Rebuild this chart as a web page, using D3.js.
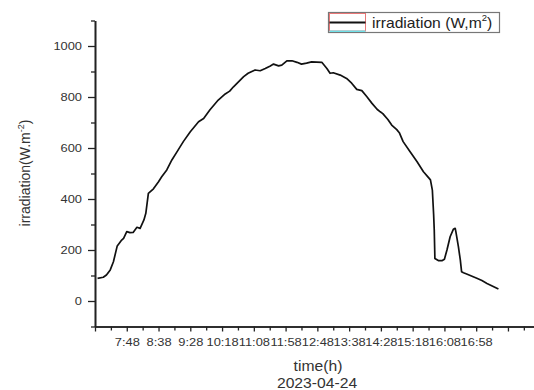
<!DOCTYPE html>
<html><head><meta charset="utf-8">
<script src="https://cdn.jsdelivr.net/npm/d3@7"></script>
<style>
body{margin:0;background:#fff}
svg{display:block}
text{font-family:"Liberation Sans",Arial,sans-serif}
</style>
</head><body>
<svg id="chart" width="534" height="390"></svg>
<script>
// ---- data ----
const times = ["7:02","7:11","7:16","7:22","7:27","7:33","7:40","7:43","7:48","7:53","7:58","8:04","8:09","8:15","8:18","8:22","8:30","8:38","8:43","8:51","8:59","9:07","9:17","9:28","9:41","9:49","9:59","10:12","10:23","10:30","10:36","10:52","10:59","11:10","11:18","11:26","11:34","11:39","11:47","11:52","12:00","12:08","12:16","12:23","12:31","12:39","12:55","13:03","13:08","13:13","13:24","13:34","13:42","13:50","13:58","14:06","14:14","14:22","14:27","14:31","14:39","14:45","14:53","14:57","15:03","15:14","15:25","15:35","15:43","15:46","15:49","15:51","15:52","15:53","15:59","16:04","16:08","16:12","16:17","16:22","16:25","16:26","16:30","16:33","16:35","16:38","16:43","16:59","17:07","17:15","17:33"];
const irradiation = [89,93,102,122,154,216,239,246,272,268,269,289,285,318,344,422,440,468,487,514,553,585,625,664,703,716,750,788,812,823,840,880,893,906,903,912,922,929,922,925,942,942,936,929,933,938,936,912,893,895,886,873,854,830,825,801,775,752,742,735,712,690,672,660,625,585,546,507,484,475,435,340,278,167,158,158,164,200,252,281,285,272,213,161,115,111,106,89,80,69,47];

const xDomain = ["6:58","18:29"];
const xMajorTicks = ["6:58","7:48","8:38","9:28","10:18","11:08","11:58","12:48","13:38","14:28","15:18","16:08","16:58","17:48"];
const xMinorTicks = ["7:23","8:13","9:03","9:53","10:43","11:33","12:23","13:13","14:03","14:53","15:43","16:33","17:23","18:13"];
const xTickLabels = ["7:48","8:38","9:28","10:18","11:08","11:58","12:48","13:38","14:28","15:18","16:08","16:58"];
const yDomain = [-100, 1100];
const yMajorTicks = [0,200,400,600,800,1000];
const yMinorTicks = [-100,100,300,500,700,900,1100];

const seriesName = "irradiation (W,m";
const seriesSup = "2";
const yTitle = "irradiation(W.m";
const yTitleSup = "-2";
const xTitle = "time(h)";
const xSubTitle = "2023-04-24";

// ---- drawing ----
const toMin = s => { const [h,m] = s.split(":").map(Number); return h*60+m; };
const svg = d3.select("#chart");
const x = d3.scaleLinear().domain(xDomain.map(toMin)).range([95, 534]);
const y = d3.scaleLinear().domain(yDomain).range([326.5, 20.5]);
const axisColor = "#222";
const labelColor = "#333";
const SX = 1.12; // horizontal stretch of the reference's lettering

function styleAxis(g){
  g.select(".domain").attr("stroke", axisColor).attr("stroke-width", 1.6);
  g.selectAll(".tick line").attr("stroke", axisColor).attr("stroke-width", 1.3);
  g.selectAll(".tick text").attr("fill", labelColor);
}

// x axis minor
svg.append("g").attr("transform","translate(0,326.5)")
  .call(d3.axisBottom(x).tickValues(xMinorTicks.map(toMin)).tickSize(4).tickSizeOuter(0).tickFormat(""))
  .call(styleAxis);
// x axis major
const labelSet = new Set(xTickLabels);
const minToStr = v => Math.floor(v/60) + ":" + String(v%60).padStart(2,"0");
svg.append("g").attr("transform","translate(0,326.5)")
  .call(d3.axisBottom(x).tickValues(xMajorTicks.map(toMin)).tickSize(5).tickPadding(6).tickSizeOuter(0)
        .tickFormat(v => labelSet.has(minToStr(v)) ? minToStr(v) : ""))
  .call(styleAxis)
  .selectAll(".tick text").attr("font-size", 11.5).attr("font-family", '"Liberation Sans",Arial,sans-serif')
  .attr("transform", `scale(${SX},1)`);

// y axis minor
svg.append("g").attr("transform","translate(95,0)")
  .call(d3.axisLeft(y).tickValues(yMinorTicks).tickSize(4).tickSizeOuter(0).tickFormat(""))
  .call(styleAxis);
// y axis major
svg.append("g").attr("transform","translate(95,0)")
  .call(d3.axisLeft(y).tickValues(yMajorTicks).tickSize(7).tickPadding(4.6).tickSizeOuter(0).tickFormat(d3.format("d")))
  .call(styleAxis)
  .selectAll(".tick text").attr("font-size", 11.5).attr("font-family", '"Liberation Sans",Arial,sans-serif')
  .attr("transform", `scale(${SX},1)`);

// line
const data = times.map((t,i) => ({t: toMin(t), v: irradiation[i]}));
svg.append("path").datum(data)
  .attr("fill","none").attr("stroke","#111").attr("stroke-width",1.7).attr("stroke-linejoin","round")
  .attr("d", d3.line().x(d => x(d.t)).y(d => y(d.v)));

// y title
const yt = svg.append("text").attr("transform","translate(30,173) rotate(-90)")
  .attr("text-anchor","middle").attr("font-size",14).attr("fill",labelColor);
yt.append("tspan").text(yTitle);
yt.append("tspan").attr("font-size",9).attr("dy",-6).text(yTitleSup);
yt.append("tspan").attr("dy",6).text(")");

// x titles
svg.append("text").attr("transform",`translate(318,371) scale(${SX},1)`).attr("text-anchor","middle")
  .attr("font-size",14).attr("fill",labelColor).text(xTitle);
svg.append("text").attr("transform",`translate(317,388) scale(${SX},1)`).attr("text-anchor","middle")
  .attr("font-size",14).attr("fill",labelColor).text(xSubTitle);

// legend
const lg = svg.append("g");
lg.append("rect").attr("x",328.5).attr("y",12.5).attr("width",171).attr("height",20)
  .attr("fill","#fff").attr("stroke","#777").attr("stroke-width",1.2);
lg.append("rect").attr("x",329.5).attr("y",13.5).attr("width",36).attr("height",17.5)
  .attr("fill","none").attr("stroke","#e87878").attr("stroke-width",1);
lg.append("line").attr("x1",329.5).attr("x2",365.5).attr("y1",31.3).attr("y2",31.3)
  .attr("stroke","#70e0e8").attr("stroke-width",1.4);
lg.append("line").attr("x1",329.5).attr("x2",365.5).attr("y1",22.5).attr("y2",22.5)
  .attr("stroke","#111").attr("stroke-width",2);
const lt = lg.append("text").attr("transform",`translate(372,28) scale(${SX},1)`)
  .attr("font-size",14).attr("fill","#222");
lt.append("tspan").text(seriesName);
lt.append("tspan").attr("font-size",8.5).attr("dy",-7).text(seriesSup);
lt.append("tspan").attr("dy",7).text(")");
</script>
</body></html>
